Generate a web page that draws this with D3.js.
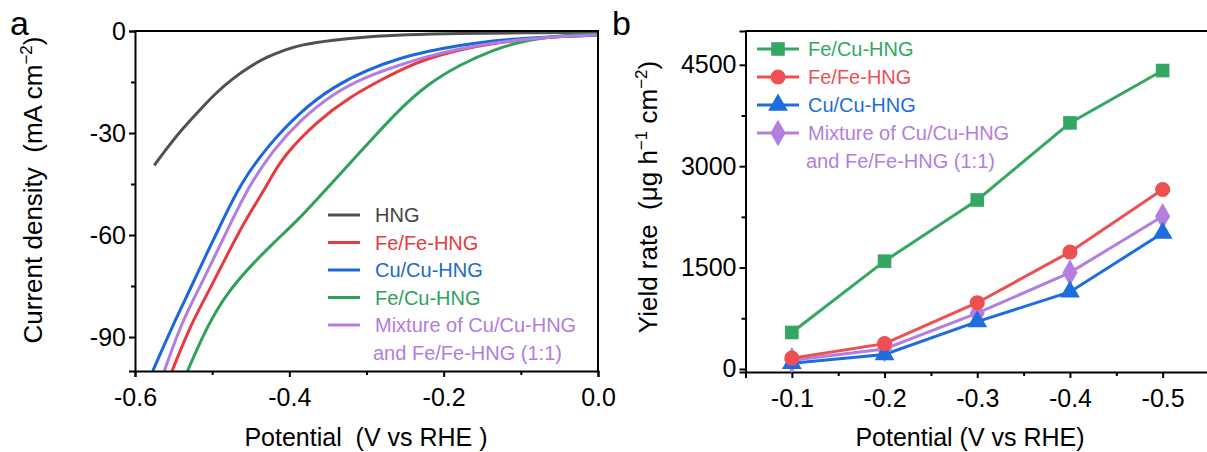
<!DOCTYPE html>
<html>
<head>
<meta charset="utf-8">
<script src="https://cdn.jsdelivr.net/npm/d3@7"></script>
<style>
body { margin: 0; background: #fff; }
text { font-family: "Liberation Sans", Arial, sans-serif; }
</style>
</head>
<body>
<svg id="chart" width="1207" height="452"></svg>
<script>
// ---- panel a: LSV curves (potential V vs RHE, current density mA cm-2)
const hngV = [-0.575, -0.561, -0.542, -0.516, -0.495, -0.473, -0.450, -0.429, -0.405, -0.386, -0.343, -0.300, -0.250, -0.180, -0.100, 0];
const hngJ = [-39.5, -35.2, -29.6, -23.2, -18.2, -13.9, -10.3, -7.6, -5.5, -4.1, -2.6, -1.7, -1.1, -0.7, -0.5, -0.4];
const cuV = [-0.577, -0.550, -0.529, -0.507, -0.486, -0.464, -0.429, -0.386, -0.343, -0.300, -0.257, -0.222, -0.179, -0.136, -0.092, -0.050, 0];
const cuJ = [-100, -86, -76.2, -65.4, -55.6, -45.2, -34, -23.7, -16.4, -11.5, -8.0, -6.0, -4.2, -2.8, -2.1, -1.6, -1.3];
const mixV = [-0.562, -0.540, -0.518, -0.496, -0.475, -0.453, -0.421, -0.386, -0.343, -0.300, -0.257, -0.222, -0.179, -0.136, -0.080, -0.040, 0];
const mixJ = [-100, -86, -76.2, -65.9, -56.1, -45.8, -35, -26.2, -18.3, -13.4, -10.0, -7.5, -5.2, -3.5, -2.1, -1.5, -1.2];
const feV = [-0.552, -0.529, -0.507, -0.486, -0.464, -0.442, -0.427, -0.408, -0.365, -0.321, -0.278, -0.250, -0.222, -0.179, -0.136, -0.080, -0.040, 0];
const feJ = [-100, -87, -77.6, -68.3, -58.5, -50.2, -44.5, -36.8, -26.7, -19.3, -14.0, -10.8, -8.2, -5.4, -3.6, -2.1, -1.5, -1.2];
const fecuV = [-0.532, -0.507, -0.481, -0.451, -0.421, -0.386, -0.352, -0.321, -0.291, -0.257, -0.222, -0.179, -0.136, -0.092, -0.049, 0];
const fecuJ = [-100, -87, -77.1, -69.3, -62.4, -55.0, -46.5, -38.8, -31.3, -23.0, -15.8, -9.9, -5.5, -2.6, -1.3, -1.0];

const lsvNames = ['HNG', 'Fe/Fe-HNG', 'Cu/Cu-HNG', 'Fe/Cu-HNG', 'Mixture of Cu/Cu-HNG'];
const lsvColors = ['#505050', '#e8393e', '#1b68d8', '#2fa15b', '#b27ce0'];
const lsvX = [hngV, feV, cuV, fecuV, mixV];
const lsvY = [hngJ, feJ, cuJ, fecuJ, mixJ];

// ---- panel b: yield rate (ug h-1 cm-2)
const potentials = [-0.1, -0.2, -0.3, -0.4, -0.5];
const yieldFeCu = [540, 1595, 2500, 3640, 4415];
const yieldFeFe = [160, 375, 980, 1730, 2655];
const yieldCuCu = [85, 215, 700, 1140, 2010];
const yieldMix = [130, 295, 825, 1425, 2260];
const yieldNames = ['Fe/Cu-HNG', 'Fe/Fe-HNG', 'Cu/Cu-HNG', 'Mixture of Cu/Cu-HNG'];
const yieldColors = ['#34a862', '#ee5052', '#1d6de0', '#b27fe0'];
const yieldSeries = [yieldFeCu, yieldFeFe, yieldCuCu, yieldMix];
const yieldSymbols = [d3.symbolSquare, d3.symbolCircle, d3.symbolTriangle, d3.symbolDiamond];

const svg = d3.select('#chart');
const tickFont = 25, titleFont = 25, legFont = 20;
const sp2 = '\u00a0 '; // double space as in the original titles

// ================= PANEL A =================
const ax = d3.scaleLinear().domain([-0.6, 0]).range([135, 598]);
const ay = d3.scaleLinear().domain([-100, 0]).range([371, 31]);

svg.append('defs').append('clipPath').attr('id', 'clipA')
	.append('rect').attr('x', 135).attr('y', 31).attr('width', 463).attr('height', 340);

// curves - basis spline smooths out reading noise
const lineA = d3.line().curve(d3.curveBasis);
lsvX.forEach((xs, k) => {
	const pts = xs.map((v, i) => [ax(v), ay(lsvY[k][i])]);
	svg.append('path')
		.attr('clip-path', 'url(#clipA)')
		.attr('d', lineA(pts))
		.attr('fill', 'none')
		.attr('stroke', lsvColors[k])
		.attr('stroke-width', 3);
});

// axes
function styleAxis(g) {
	g.select('.domain').attr('stroke', '#000').attr('stroke-width', 2);
	g.selectAll('.tick line').attr('stroke', '#000').attr('stroke-width', 2);
	g.selectAll('.tick text').attr('fill', '#000').style('font-size', tickFont + 'px')
		.style('font-family', '"Liberation Sans", Arial, sans-serif');
}
const axB = svg.append('g').attr('transform', 'translate(0,371)')
	.call(d3.axisBottom(ax).tickValues([-0.6, -0.4, -0.2, 0]).tickSize(6).tickPadding(11).tickFormat(d => d.toFixed(1)));
styleAxis(axB);
svg.append('g').attr('transform', 'translate(0,371)')
	.call(d3.axisBottom(ax).tickValues([-0.5, -0.3, -0.1]).tickSize(4).tickFormat(''))
	.call(styleAxis).select('.domain').remove();
const axL = svg.append('g').attr('transform', 'translate(135,0)')
	.call(d3.axisLeft(ay).tickValues([0, -30, -60, -90]).tickSize(6).tickPadding(3).tickFormat(d => String(d)));
styleAxis(axL);
svg.append('g').attr('transform', 'translate(135,0)')
	.call(d3.axisLeft(ay).tickValues([-15, -45, -75]).tickSize(4).tickFormat(''))
	.call(styleAxis).select('.domain').remove();
// frame top/right
svg.append('path').attr('d', `M135,31H598V371`).attr('fill', 'none').attr('stroke', '#000').attr('stroke-width', 2);

// legend a
const legA = svg.append('g');
lsvNames.forEach((n, k) => {
	const y = 215 + k * 27.5;
	legA.append('line').attr('x1', 328).attr('x2', 360).attr('y1', y).attr('y2', y)
		.attr('stroke', lsvColors[k]).attr('stroke-width', 3);
	legA.append('text').attr('x', 375).attr('y', y).attr('dy', '0.36em')
		.attr('fill', k === 0 ? '#444' : lsvColors[k]).style('font-size', legFont + 'px').text(n);
});
legA.append('text').attr('x', 373).attr('y', 215 + 5 * 27.5).attr('dy', '0.36em')
	.attr('fill', lsvColors[4]).style('font-size', legFont + 'px').text('and Fe/Fe-HNG (1:1)');

// titles a
svg.append('text').attr('x', 366).attr('y', 446).attr('text-anchor', 'middle')
	.style('font-size', titleFont + 'px').text('Potential' + sp2 + '(V vs RHE )');
const ytA = svg.append('text').attr('transform', 'translate(42,190) rotate(-90)').attr('text-anchor', 'middle')
	.style('font-size', '26px');
ytA.append('tspan').text('Current density' + sp2 + '(mA cm');
ytA.append('tspan').attr('dy', -10).style('font-size', '17px').text('\u22122');
ytA.append('tspan').attr('dy', 10).text(')');
svg.append('text').attr('x', 10).attr('y', 35).style('font-size', '34px').text('a');

// ================= PANEL B =================
const bx = d3.scaleLinear().domain([-0.05, -0.55]).range([745.5, 1209]);
const by = d3.scaleLinear().domain([-45, 5000]).range([372, 31]);

const axBB = svg.append('g').attr('transform', 'translate(0,372)')
	.call(d3.axisBottom(bx).tickValues(potentials).tickSize(6).tickPadding(11).tickFormat(d => d.toFixed(1)));
styleAxis(axBB);
svg.append('g').attr('transform', 'translate(0,372)')
	.call(d3.axisBottom(bx).tickValues([-0.15, -0.25, -0.35, -0.45]).tickSize(4).tickFormat(''))
	.call(styleAxis).select('.domain').remove();
const axBL = svg.append('g').attr('transform', 'translate(745.5,0)')
	.call(d3.axisLeft(by).tickValues([0, 1500, 3000, 4500]).tickSize(6).tickPadding(3).tickFormat(d3.format('d')));
styleAxis(axBL);
svg.append('g').attr('transform', 'translate(745.5,0)')
	.call(d3.axisLeft(by).tickValues([750, 2250, 3750]).tickSize(4).tickFormat(''))
	.call(styleAxis).select('.domain').remove();
svg.append('path').attr('d', `M745.5,31H1209`).attr('fill', 'none').attr('stroke', '#000').attr('stroke-width', 2);

const lineB = d3.line();
// mixture drawn first, Fe/Cu last
[3, 2, 1, 0].forEach(k => {
	const pts = potentials.map((p, i) => [bx(p), by(yieldSeries[k][i])]);
	svg.append('path').attr('d', lineB(pts)).attr('fill', 'none')
		.attr('stroke', yieldColors[k]).attr('stroke-width', 3);
});
const symSize = [185, 180, 170, 200];
[3, 2, 1, 0].forEach(k => {
	const sym = d3.symbol().type(yieldSymbols[k]).size(symSize[k]);
	potentials.forEach((p, i) => {
		svg.append('path').attr('d', sym())
			.attr('transform', `translate(${bx(p)},${by(yieldSeries[k][i])})`)
			.attr('fill', yieldColors[k]);
	});
});

// legend b
const legB = svg.append('g');
yieldNames.forEach((n, k) => {
	const y = 49 + k * 28;
	legB.append('line').attr('x1', 757).attr('x2', 799).attr('y1', y).attr('y2', y)
		.attr('stroke', yieldColors[k]).attr('stroke-width', 3);
	legB.append('path').attr('d', d3.symbol().type(yieldSymbols[k]).size(symSize[k])())
		.attr('transform', `translate(778,${y})`).attr('fill', yieldColors[k]);
	legB.append('text').attr('x', 808).attr('y', y).attr('dy', '0.36em')
		.attr('fill', yieldColors[k]).style('font-size', legFont + 'px').text(n);
});
legB.append('text').attr('x', 806).attr('y', 49 + 4 * 28).attr('dy', '0.36em')
	.attr('fill', yieldColors[3]).style('font-size', legFont + 'px').text('and Fe/Fe-HNG (1:1)');

svg.append('text').attr('x', 970).attr('y', 446).attr('text-anchor', 'middle')
	.style('font-size', titleFont + 'px').text('Potential (V vs RHE)');
const ytB = svg.append('text').attr('transform', 'translate(657,197) rotate(-90)').attr('text-anchor', 'middle')
	.style('font-size', '26px');
ytB.append('tspan').text('Yield rate' + sp2 + '(\u03bcg h');
ytB.append('tspan').attr('dy', -10).style('font-size', '17px').text('\u22121');
ytB.append('tspan').attr('dy', 10).text(' cm');
ytB.append('tspan').attr('dy', -10).style('font-size', '17px').text('\u22122');
ytB.append('tspan').attr('dy', 10).text(')');
svg.append('text').attr('x', 612).attr('y', 35).style('font-size', '34px').text('b');
</script>
</body>
</html>
